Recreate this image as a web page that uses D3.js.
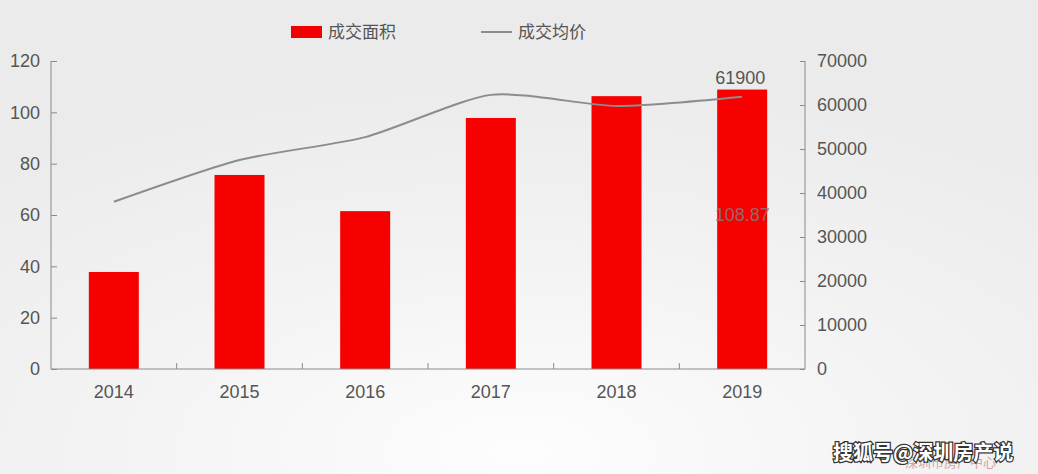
<!DOCTYPE html>
<html><head><meta charset="utf-8">
<script src="https://cdn.jsdelivr.net/npm/d3@7"></script>
<style>html,body{margin:0;padding:0;overflow:hidden;}svg{display:block;}</style>
</head><body>
<svg id="c" width="1038" height="474"></svg>
<script>
const years = ["2014","2015","2016","2017","2018","2019"];
const area = [37.8, 75.6, 61.5, 97.8, 106.3, 108.87];
const price = [38000, 47500, 52700, 62300, 59800, 61900];
const leftTicks = [0,20,40,60,80,100,120];
const rightTicks = [0,10000,20000,30000,40000,50000,60000,70000];
const seriesNames = ["成交面积","成交均价"];

const svg = d3.select("#c");
const W=1038,H=474;
const defs = svg.append("defs");
const rg = defs.append("radialGradient").attr("id","bg").attr("cx","0.5").attr("cy","0.95").attr("r","0.8");
rg.append("stop").attr("offset","0").attr("stop-color","#fdfdfd");
rg.append("stop").attr("offset","0.5").attr("stop-color","#f3f3f3");
rg.append("stop").attr("offset","1").attr("stop-color","#ebebeb");
svg.append("rect").attr("width",W).attr("height",H).attr("fill","url(#bg)");

const L=51,R=805,T=61,B=369;
const xb = d3.scaleBand().domain(years).range([L,R]);
const yL = d3.scaleLinear().domain([0,120]).range([B,T]);
const yR = d3.scaleLinear().domain([0,70000]).range([B,T]);
const font = "'Liberation Sans', Arial, sans-serif";
const tc = "#555";
const ac = "#8a8a8a";

// bars
svg.append("g").selectAll("rect").data(area).join("rect")
  .attr("x",(d,i)=>xb(years[i])+xb.bandwidth()/2-25)
  .attr("width",50)
  .attr("y",d=>yL(d)).attr("height",d=>B-yL(d))
  .attr("fill","#f70000");

// left axis
const gl = svg.append("g").attr("transform",`translate(${L},0)`)
  .call(d3.axisLeft(yL).tickValues(leftTicks).tickSize(-6).tickPadding(11));
gl.select(".domain").attr("stroke",ac).attr("d",`M0,${T}V${B}`);
gl.selectAll(".tick line").attr("stroke",ac);
gl.selectAll("text").attr("fill",tc).style("font-family",font).style("font-size","18px");

// right axis
const gr = svg.append("g").attr("transform",`translate(${R},0)`)
  .call(d3.axisRight(yR).tickValues(rightTicks).tickFormat(d3.format("d")).tickSize(-5).tickPadding(12));
gr.select(".domain").attr("stroke",ac).attr("d",`M0,${T}V${B}`);
gr.selectAll(".tick line").attr("stroke",ac);
gr.selectAll("text").attr("fill",tc).style("font-family",font).style("font-size","18px");

// bottom axis
const gb = svg.append("g").attr("transform",`translate(0,${B})`)
  .call(d3.axisBottom(xb).tickSize(0).tickPadding(16));
gb.select(".domain").attr("stroke",ac).attr("d",`M${L},0H${R}`);
gb.selectAll("text").attr("fill",tc).style("font-family",font).style("font-size","18px");
svg.append("g").selectAll("line").data(years.slice(1)).join("line")
  .attr("x1",d=>xb(d)).attr("x2",d=>xb(d)).attr("y1",B).attr("y2",B-6)
  .attr("stroke",ac);

// line
const line = d3.line().x((d,i)=>xb(years[i])+xb.bandwidth()/2).y(d=>yR(d)).curve(d3.curveCardinal.tension(0.3));
svg.append("path").attr("d",line(price)).attr("fill","none").attr("stroke","#8c8c8c").attr("stroke-width",2);

// labels
const li = years.length-1;
svg.append("text").attr("x",xb(years[li])+xb.bandwidth()/2-2).attr("y",yR(price[li])-13)
  .attr("text-anchor","middle").attr("fill",tc).style("font-family",font).style("font-size","18px").text(price[li]);
svg.append("text").attr("x",xb(years[li])+xb.bandwidth()/2).attr("y",221)
  .attr("text-anchor","middle").attr("fill","#808080").attr("opacity",0.8).style("font-family",font).style("font-size","18px").text(area[li]);

// legend
const lf = "'Noto Sans CJK SC', sans-serif";
svg.append("rect").attr("x",291).attr("y",26).attr("width",31).attr("height",12).attr("fill","#f00000");
svg.append("text").attr("x",328).attr("y",38).attr("fill",tc).style("font-family",lf).style("font-size","17px").text(seriesNames[0]);
svg.append("line").attr("x1",481).attr("x2",512).attr("y1",32).attr("y2",32).attr("stroke","#8c8c8c").attr("stroke-width",2);
svg.append("text").attr("x",518).attr("y",38).attr("fill",tc).style("font-family",lf).style("font-size","17px").text(seriesNames[1]);

// watermark
svg.append("text").attr("x",905).attr("y",467).attr("fill","#c06060").attr("opacity",0.55)
  .style("font-family",lf).style("font-size","13px").text("深圳市房产中心");
svg.append("text").attr("x",833).attr("y",460).attr("fill","#fff").attr("stroke","#333").attr("stroke-width",2.5)
  .attr("paint-order","stroke").style("font-family",lf).style("font-size","20px").style("font-weight","bold").text("搜狐号@深圳房产说");
</script>
</body></html>
